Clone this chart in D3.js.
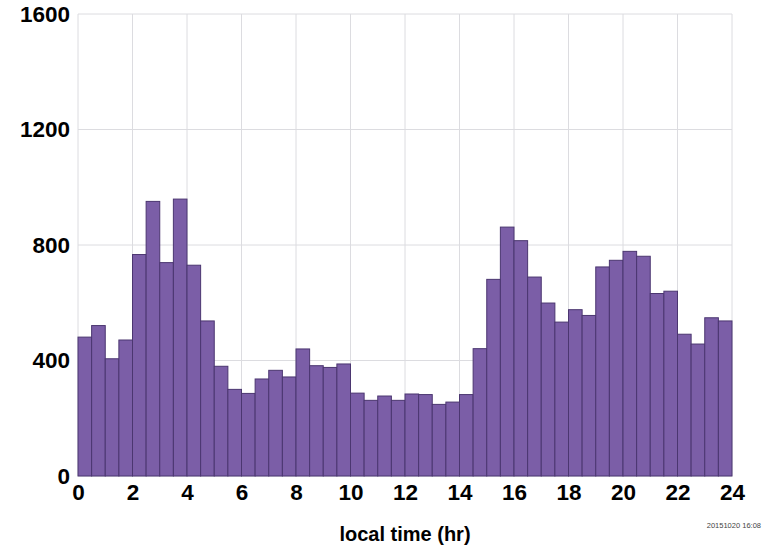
<!DOCTYPE html>
<html><head><meta charset="utf-8">
<script src="https://cdn.jsdelivr.net/npm/d3@7"></script>
<style>body{margin:0;background:#fff}svg{display:block}</style>
</head><body>
<svg id="c" width="778" height="548"></svg>
<script>
const binStarts = d3.range(48).map(i => i * 0.5);
const counts = [481,521,406,471,767,951,739,959,730,537,380,300,286,336,366,343,440,382,376,388,287,262,277,262,284,282,248,256,282,441,681,862,815,689,599,533,576,556,724,747,778,761,632,640,491,457,548,537];
const xTicks = [0,2,4,6,8,10,12,14,16,18,20,22,24];
const yTicks = [0,400,800,1200,1600];
const xLabel = "local time (hr)";
const stamp = "20151020 16:08";

const svg = d3.select("#c");
const L = 78, R = 732, T = 14, B = 476;
const x = d3.scaleLinear().domain([0,24]).range([L,R]);
const y = d3.scaleLinear().domain([0,1600]).range([B,T]);

const g = svg.append("g");
g.selectAll("line.vg").data(xTicks).join("line")
  .attr("x1", d=>x(d)).attr("x2", d=>x(d)).attr("y1", T).attr("y2", B)
  .attr("stroke", "#dcdce0").attr("stroke-width", 1);
g.selectAll("line.hg").data(yTicks).join("line")
  .attr("x1", L).attr("x2", R).attr("y1", d=>y(d)).attr("y2", d=>y(d))
  .attr("stroke", "#dcdce0").attr("stroke-width", 1);

g.selectAll("rect").data(counts).join("rect")
  .attr("x", (d,i)=>x(binStarts[i]))
  .attr("width", (d,i)=>x(binStarts[i]+0.5)-x(binStarts[i]))
  .attr("y", d=>y(d)).attr("height", d=>y(0)-y(d))
  .attr("fill", "#7b5ea7").attr("stroke", "#4b3670").attr("stroke-width", 1);

const xAxis = d3.axisBottom(x).tickValues(xTicks).tickSize(0).tickPadding(8).tickFormat(d3.format("d"));
const ax = svg.append("g").attr("transform", `translate(0,${B})`).call(xAxis);
ax.select(".domain").remove();
ax.selectAll("text").attr("font-family","Liberation Sans, Arial, sans-serif").attr("font-weight","bold").attr("font-size",22.5).attr("fill","#000");

const yAxis = d3.axisLeft(y).tickValues(yTicks).tickSize(0).tickPadding(8).tickFormat(d3.format("d"));
const ay = svg.append("g").attr("transform", `translate(${L},0)`).call(yAxis);
ay.select(".domain").remove();
ay.selectAll("text").attr("font-family","Liberation Sans, Arial, sans-serif").attr("font-weight","bold").attr("font-size",22.5).attr("fill","#000");

svg.append("text").attr("x", 405).attr("y", 541).attr("text-anchor","middle")
  .attr("font-family","Liberation Sans, Arial, sans-serif").attr("font-weight","bold").attr("font-size",20)
  .text(xLabel);
svg.append("text").attr("x", 761).attr("y", 528).attr("text-anchor","end")
  .attr("font-family","Liberation Sans, Arial, sans-serif").attr("font-size",7.5).attr("fill","#444")
  .text(stamp);
</script>
</body></html>
